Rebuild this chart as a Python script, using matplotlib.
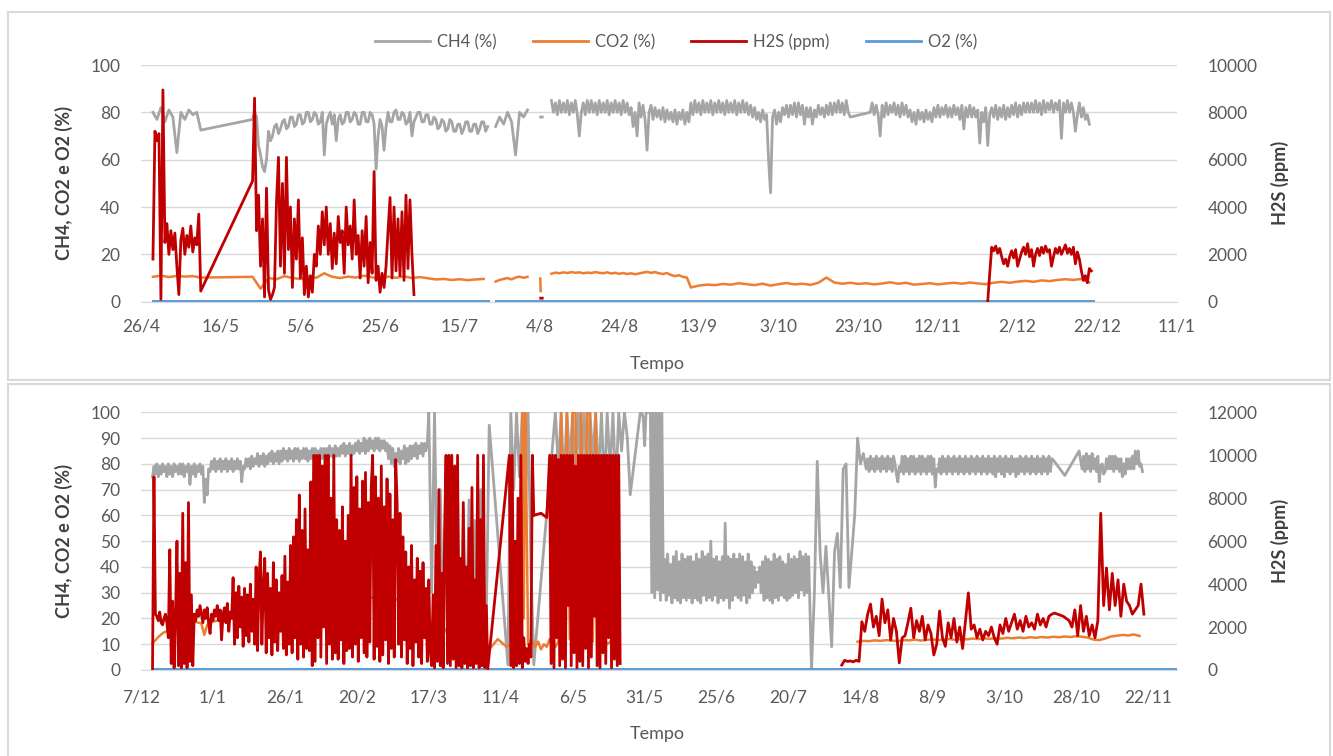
import numpy as np
import matplotlib
matplotlib.use("Agg")
import matplotlib.pyplot as plt
from matplotlib.patches import Rectangle
from matplotlib.lines import Line2D

plt.rcParams['font.family'] = ['Lato', 'DejaVu Sans']

# each run is (first day, step in days, values); None breaks the line
# top chart, days counted from 26/4
TOP_XLABELS = ['26/4', '16/5', '5/6', '25/6', '15/7', '4/8', '24/8', '13/9',
               '3/10', '23/10', '12/11', '2/12', '22/12', '11/1']

TOP_CH4 = [
    (3, 1, [80, 77, 82, 76, 81, 78, 63, 80, 77, 81, 79, 80, 72.5]),
    (28, 0.5, [77, 80, 78, 66, 62, 57, 55, 60, 72, 68, 70, 74, 75, 71, 73, 76, 77, 73, 74, 78,
               78, 74, 75, 79, 79, 75, 76, 80, 80, 76, 77, 80, 79, 75, 76, 80, 62, 75, 78, 80,
               75, 79, 68, 77, 79, 75, 76, 80, 80, 76, 77, 80, 79, 75, 75, 80, 80, 76, 76, 80,
               79, 75, 56, 70, 77, 74, 64, 74, 80, 76, 76, 80, 81, 77, 77, 80, 79, 75, 76, 80,
               70, 76, 78, 80, 80, 76, 76, 79, 79, 75, 75, 78, 77, 73, 74, 77, 76, 72, 73, 77,
               76, 72, 72, 75, 75, 71, 73, 76, 76, 72, 72, 75, 75, 71, 73, 76, 76, 72, 74]),
    None,
    (89, 1, [74, 78, 75, 80, 76, 62, 80, 78, 81]),
    None,
    (100.3, 0.4, [78, 78]),
    None,
    (103, 0.5, [85, 80, 84, 79, 85, 80, 84, 80, 85, 79, 84, 80, 85, 79, 70, 80, 84, 79, 85, 80,
                85, 80, 84, 79, 85, 80, 84, 80, 85, 79, 84, 80, 85, 80, 84, 79, 85, 80, 84, 79,
                82, 74, 80, 70, 84, 78, 83, 77, 64, 80, 83, 77, 82, 78, 81, 77, 82, 76, 81, 77,
                80, 76, 81, 75, 80, 77, 81, 75, 80, 76, 84, 79, 85, 80, 84, 79, 85, 80, 84, 80,
                85, 79, 84, 80, 85, 80, 84, 79, 85, 80, 84, 80, 85, 79, 84, 80, 85, 80, 84, 79,
                83, 78, 82, 77, 80, 76, 81, 77, 79, 60, 46, 78, 81, 75, 80, 76, 82, 79, 83, 78,
                83, 79, 84, 78, 84, 79, 83, 75, 82, 78, 82, 75, 81, 78, 83, 79, 82, 78, 83, 79,
                84, 79, 84, 80, 85, 80, 84, 79, 85, 80, 78]),
    (183, 0.5, [80, 84, 79, 83, 79, 70, 83, 78, 84, 79, 83, 80, 84, 79, 83, 78, 84, 79, 83, 78,
                81, 76, 80, 75, 81, 77, 80, 76, 81, 77, 80, 76, 82, 78, 83, 78, 82, 79, 83, 78,
                82, 78, 83, 79, 82, 77, 83, 73, 82, 78, 83, 78, 82, 78, 81, 67, 80, 76, 82, 66,
                79, 82, 78, 83, 77, 82, 78, 83, 77, 82, 78, 83, 79, 84, 78, 83, 79, 84, 80, 84,
                80, 84, 80, 85, 80, 84, 79, 85, 80, 84, 81, 85, 80, 84, 81, 85, 69, 84, 80, 85,
                80, 84, 80, 72, 79, 84, 78, 82, 77, 79, 75]),
]

TOP_CO2 = [
    (3, 2, [10.5, 11, 10.4, 10.9, 10.6, 10.8, 10.2]),
    (28, 2, [10.5, 5.5, 10, 9.5, 10.8, 10, 9.6, 10.4, 10.1, 12,
             10.5, 10, 10.6, 10.2, 11, 10.3, 9.8, 10.6, 10.1, 10.7,
             10, 10.4, 9.9, 9.4, 9.6, 9.2, 9.5, 9.1, 9.4, 9.6]),
    None,
    (89, 1, [8.5, 9.2, 9.6, 10, 9.4, 10.2, 10.6, 10.1, 10.5]),
    None,
    (100.2, 0.1, [9.8, 4.5]),
    None,
    (103, 1, [11.8, 12.3, 12, 12.4, 12.1, 12.5, 12.2, 12.4, 12, 12.3,
              12.1, 12.5, 12.2, 12, 12.4, 11.9, 12.2, 11.8, 12.1, 11.7,
              12, 11.6, 11.9, 12.3, 12.6, 12.2, 12.5, 12.0, 11.7, 12.1,
              11.3, 10.8, 11.2, 10.5, 10.2]),
    (138, 2, [6.0, 6.8, 7.2, 7.0, 7.5, 7.2, 7.8, 7.4, 7.0, 7.6,
              6.8, 7.4, 7.9, 7.3, 7.6, 7.1, 8.0, 10.2, 8.1, 7.6,
              8.0, 7.5, 7.8, 7.3, 7.7, 8.2, 7.6, 8.0, 7.2, 7.5,
              7.8, 7.3, 7.7, 8.0, 7.6, 8.1, 7.7, 7.4, 8.0, 8.4,
              8.0, 8.5, 8.8, 8.4, 9.0, 8.7, 9.2, 9.5, 9.2, 9.6, 8.2]),
]

TOP_H2S = [
    (3, 0.5, [1800, 7200, 6800, 7100, 100, 8950, 2500, 3300, 2000, 3000,
              2200, 2900, 1500, 300, 2600, 3100, 2000, 2800, 2300, 3200,
              2100, 2700, 2400, 3700, 450]),
    (28, 0.5, [5100, 8600, 3000, 4500, 1500, 3500,
               200, 4800, 500, 100, 300, 600,
               4200, 6100, 1500, 5000, 1200, 6100,
               2200, 4000, 600, 3500, 1800, 4300,
               1000, 2700, 300, 1500, 200, 1100,
               400, 2000, 1500, 3200, 2000, 3800,
               2400, 4000, 2000, 3300, 1400, 2900,
               1600, 3600, 2500, 3000, 1200, 4000,
               2400, 3200, 1800, 4300, 2000, 2800,
               1000, 3000, 1500, 3600, 800, 2500,
               1200, 5500, 900, 1500, 400, 1200,
               600, 1500, 3000, 4400, 1000, 4000,
               1300, 3500, 1100, 3800, 900, 4500,
               1400, 4300, 2000, 300]),
    None,
    (100.3, 0.4, [150, 150]),
    None,
    (212.5, 0.5, [0, 1200, 2300, 2150, 2350, 2050, 2250, 1900, 1600, 1800,
                  1500, 1900, 2150, 1850, 2200, 1500, 1800, 2100, 2300, 2000,
                  2450, 1900, 2200, 1500, 2000, 2250, 1950, 2300, 2050, 2350,
                  2100, 2200, 1500, 1900, 2250, 2050, 2300, 2000, 2200, 2400,
                  2050, 2250, 2000, 2300, 1600, 2100, 1800, 1300, 900, 1100,
                  800, 1400, 1300]),
]

TOP_O2 = [(3, 84, [0.3, 0.3]), None, (89, 150, [0.3, 0.3])]

# bottom chart, days counted from 7/12
BOT_XLABELS = ['7/12', '1/1', '26/1', '20/2', '17/3', '11/4', '6/5', '31/5',
               '25/6', '20/7', '14/8', '8/9', '3/10', '28/10', '22/11']

BOT_CH4 = [
    (4, 0.5, [75, 79, 76, 80, 75, 79, 76, 80, 77, 79, 75, 80, 76, 79, 75, 80, 77, 79, 76, 80,
              76, 80, 75, 79, 77, 80, 72, 79, 76, 80, 75, 79, 77, 80, 76, 79, 65, 74, 68, 78,
              77, 81, 78, 82, 77, 81, 78, 82, 77, 81, 78, 82, 77, 81, 78, 82, 77, 81, 78, 82,
              78, 81, 73, 79, 78, 82, 79, 82, 78, 83, 79, 82, 80, 84, 79, 83, 80, 84, 79, 83,
              80, 84, 81, 85, 80, 84, 81, 85, 80, 85, 81, 86, 82, 85, 81, 86, 82, 85, 81, 86,
              82, 86, 81, 85, 82, 86, 82, 86, 81, 85, 82, 86, 82, 86, 81, 85, 82, 86, 82, 86,
              83, 86, 82, 87, 83, 86, 82, 87, 83, 86, 83, 87, 84, 88, 83, 87, 84, 88, 83, 87,
              84, 88, 85, 89, 84, 88, 85, 90, 84, 89, 85, 90, 86, 89, 85, 90, 86, 90, 85, 89,
              86, 89, 85, 88, 82, 87, 80, 86, 79, 84, 81, 86, 80, 85, 82, 87, 80, 86, 81, 87,
              82, 87, 83, 88, 82, 87, 84, 88, 83, 88, 85, 88]),
    (100, 1, [100, 30, 100, 25, 70, 10, 65, 5, 60, 15,
              68, 5, 62, 10, 66, 3, 58, 8, 70, 2,
              20, 95]),
    (127.5, 1, [2, 100, 70, 100, 75, 100, 60, 100, 40, 2]),
    (144, 1, [100, 78, 100, 72, 100, 80, 100, 70, 100, 75,
              100, 68, 100, 82, 100, 74, 100, 70, 100, 77,
              100, 69, 100, 85, 100, 90, 68]),
    (173.5, 0.5, [100, 100, 98, 87, 100, 100, 100, 100, 30, 100,
                  28, 100, 31, 100, 27, 100, 30]),
    (182, 0.5, [43, 27, 45, 29, 41, 26, 44, 28, 46, 27,
                42, 26, 45, 28, 43, 27, 44, 28, 44, 26,
                42, 28, 45, 27, 43, 26, 46, 29, 44, 27,
                45, 28, 50, 27, 43, 29, 44, 26, 42, 28,
                44, 27, 57, 28, 44, 24, 43, 27, 45, 29,
                43, 28, 45, 27, 44, 29, 42, 26, 45, 28,
                42, 30, 40, 32, 38, 34, 40, 30, 42, 27,
                44, 28, 43, 27, 42, 26, 45, 28, 43, 27,
                44, 29, 42, 28, 41, 27, 45, 28, 43, 29,
                44, 30, 43, 28, 46, 31, 44, 29, 45, 30,
                44]),
    (233, 1, [0, 30, 81, 45, 30, 48, 29, 9, 46,
              53, 32, 78, 80, 32, 46, 60, 90, 80, 84]),
    (252, 0.5, [78, 82, 77, 83, 78, 82, 77, 83, 78, 82, 77, 83, 78, 82, 77, 83, 78, 82, 77, 83,
                80, 76, 73, 79, 77, 83, 76, 83, 77, 82, 76, 83, 77, 83, 76, 82, 77, 83, 76, 83,
                77, 82, 76, 83, 77, 83, 76, 82, 71, 78, 77, 82, 76, 83, 77, 82, 76, 83, 77, 82,
                76, 83, 77, 82, 76, 83, 77, 82, 76, 83, 77, 82, 76, 83, 77, 82, 76, 83, 77, 82,
                76, 83, 77, 82, 76, 83, 77, 82, 76, 83, 75, 82, 77, 83, 76, 82, 75, 83, 77, 82,
                76, 83, 77, 82, 75, 82, 76, 83, 77, 82, 76, 83, 77, 82, 76, 83, 77, 82, 76, 83,
                77, 82, 76, 83, 77, 82, 76, 83, 77, 82, 81.5]),
    (321, 5, [75.5, 85]),
    (327, 0.5, [78, 83, 77, 84, 78, 83, 77, 84, 78, 82, 77, 83, 73, 79, 80, 76, 77, 82, 78, 83,
                78, 83, 77, 83, 78, 82, 77, 82, 75, 80, 76, 82, 78, 82, 78, 83, 78, 85, 80, 85,
                79, 80, 77]),
]

BOT_CO2 = [
    (4, 1, [10.4, 11.5, 12.8, 13.8, 14.6, 15.0, 15.3, 15.6, 15.8, 16.0,
            16.2, 16.8, 17.3, 17.8, 18.2, 18.6, 18.4, 18.0, 13.6, 17.5,
            18.4, 18.8, 19.0, 19.4, 19.8, 20.2, 20.5]),
    (31, 3, [21, 21.5, 22, 22.8, 23.5, 24, 24.8, 25.5, 26.5, 26,
             25.5, 26.4, 27, 27.5, 28, 27.8, 28.2, 28, 27.5, 28]),
    (91, 3, [26, 22, 24, 18, 20, 15, 12, 18, 10, 14, 8, 12, 9, 11]),
    (132, 0.5, [10, 100, 20, 100, 60, 10, 8, 12]),
    (137, 1, [9, 11, 8, 10, 9, 12, 10, 9, 11, 100,
              10, 100, 12, 100, 100, 15, 100, 9, 100, 100,
              11, 100, 10, 9, 12, 10, 11, 9, 10, 8]),
    None,
    (249, 2, [11.0, 11.3, 11.2, 11.5, 11.3, 11.6, 11.4, 11.2, 11.6, 11.5,
              11.8, 11.4, 11.7, 11.9, 11.6, 11.8, 12.0, 11.7, 12.1, 11.9,
              12.2, 12.0, 12.3, 12.1, 12.4, 12.2, 12.5, 12.3, 12.6, 12.4,
              12.7, 12.5, 12.8, 12.6, 12.9, 12.7, 13.0, 12.8, 13.1, 12.9,
              12.6, 11.8, 11.6, 12.2, 13.0, 13.3, 13.6, 13.4, 13.8, 13.2]),
]

BOT_H2S = [
    (4, 0.5, [0, 9000, 2600, 2500, 2300, 2700, 2200, 2100, 2400, 2600, 2200,
              1500, 5600, 300, 3200, 100, 2500, 6000, 200, 4500, 100,
              7300, 300, 5000, 100, 7800, 400, 3500, 200, 2600,
              2300, 2800, 2500, 3000, 2600, 2200, 2800, 2400, 2900, 2200,
              1700, 2600, 2300, 2800,
              2500, 3000, 2300, 2800, 1400, 2600, 2900, 2200, 3100, 1800,
              2700, 2400,
              4300, 1200, 3600, 1500, 3900, 2000, 3400, 1100, 3800, 1600,
              3500, 1300, 4000, 1800, 3300, 1200,
              4800, 900, 4200, 5500, 1200, 3900, 5200, 800, 4500, 1500,
              3800, 700, 5000, 1300, 4200, 900, 3600, 1800, 4400, 1000,
              5300, 700, 4100, 1200,
              5800, 800, 6200, 1500, 7000, 500, 8150, 1200, 6500, 600,
              7500, 1000, 5600, 900, 8760, 200,
              10000, 400, 10000, 1500, 10000, 600, 9500, 2000, 10000, 300,
              10000, 1200, 8000, 500, 10000, 800,
              7000, 500, 6500, 1400, 7600, 300, 6000, 900, 7200,
              1000, 10000, 600, 8500, 1200, 9000, 400, 7500, 1500, 8800,
              800, 9200, 600, 7800, 1300, 8500, 10000, 500, 9000, 1100,
              8000, 400, 9500, 700, 7600, 1400, 8900, 300, 8200, 1000,
              7000, 600, 9800,
              7800, 1200, 7300, 600, 6200, 1400, 5500, 300, 4800, 1000,
              5800, 200, 4200, 1300, 5200, 600, 4600, 300, 5000, 1500,
              3800, 400, 4200, 900,
              200, 3500, 100, 5800, 400, 8400, 200, 4500, 100, 6500,
              10000, 300, 10000, 200, 10000, 500, 9500, 100, 10000, 200,
              5200, 100, 7800, 300, 4800, 100, 6600, 200, 8500, 100,
              4200, 300, 10000, 100, 7000, 200, 10000, 100, 3000, 50]),
    (128, 0.5, [10000, 200, 10000, 100, 6000, 200, 8000, 300, 10000, 100,
                1500, 400, 1000, 300, 1200, 600, 10000, 7200]),
    (139, 2, [7300, 7100]),
    (142, 0.5, [10000, 300, 10000, 100, 10000, 1500, 9800, 200, 10000, 500,
                10000, 100, 10000, 3000, 10000, 200, 10000, 800, 9500, 100,
                10000, 400, 10000, 200, 10000, 1000, 10000, 100, 10000, 600,
                10000, 2500, 10000, 200, 10000, 100, 10000, 800, 10000, 300,
                10000, 1500, 10000, 100, 10000, 500, 10000, 200, 10000, 300]),
    None,
    (243.5, 1, [230, 450, 400, 420, 380, 450, 400, 2250, 1800, 2600,
                3070, 2000, 2500, 1600, 3300, 2200, 2800, 1400, 2400, 1800,
                330, 1500]),
    (265.5, 1, [1600, 2200, 2880, 1500, 2300, 1800, 2500, 1400, 2100, 1700,
                700, 1200, 2750, 1500, 1100, 2200, 1500, 2400, 1300, 2000,
                1000, 2300, 3590, 1900, 2100, 1500, 1900, 1400, 1800, 1600,
                2000, 1500, 1200, 2100, 1700, 2400, 1800, 2200, 2600, 1900,
                2300, 1800, 2500, 2000, 2200, 1900, 2600, 2100, 2400, 2000,
                2500, 2600, 2650, 2600, 2550, 2500, 2400, 2300, 2000, 2800,
                1600, 3000, 1800, 2500, 1600, 2100, 1500, 2300, 7300, 3000,
                4750, 2800, 4500, 3000, 4200, 2500, 4000, 3200, 3000, 2600,
                2800, 3000, 4000, 2600]),
]

BOT_O2 = [(4, 356, [0.3, 0.3])]

C_CH4 = '#A5A5A5'
C_CO2 = '#ED7D31'
C_H2S = '#C00000'
C_O2 = '#5B9BD5'
GRID = '#D9D9D9'
TXT = '#595959'


def build(runs):
    ts, vs = [], []
    for run in runs:
        if run is None:
            ts.append(np.nan)
            vs.append(np.nan)
            continue
        t0, dt, vals = run
        ts.extend(t0 + dt * np.arange(len(vals)))
        vs.extend(vals)
    return np.array(ts), np.array(vs)


def panel(rect, ch4, co2, h2s, o2, xmax, xstep, xlabels, ystep, h2smax, xpad):
    ax = fig.add_axes(rect)
    ax2 = ax.twinx()
    ax.plot(*build(ch4), color=C_CH4, lw=2.0)
    ax.plot(*build(co2), color=C_CO2, lw=1.8)
    ax.plot(*build(o2), color=C_O2, lw=2.2)
    ax2.plot(*build(h2s), color=C_H2S, lw=2.0)

    ax.set_xlim(0, xmax)
    ax.set_ylim(0, 100)
    ax2.set_ylim(0, h2smax)
    ax.set_xticks(np.arange(len(xlabels)) * xstep)
    ax.set_xticklabels(xlabels)
    ax.set_yticks(np.arange(0, 101, ystep))
    ax2.set_yticks(np.arange(0, h2smax + 1, 2000))
    ax.grid(axis='y', color=GRID, lw=1)
    ax.set_axisbelow(True)
    for a in (ax, ax2):
        for s in a.spines.values():
            s.set_visible(False)
    ax.spines['bottom'].set_visible(True)
    ax.spines['bottom'].set_color(GRID)
    ax.tick_params(axis='x', length=0, pad=xpad, labelsize=12.5, labelcolor=TXT)
    ax.tick_params(axis='y', length=0, pad=15, labelsize=12.5, labelcolor=TXT)
    ax2.tick_params(axis='y', length=0, pad=22, labelsize=12.5, labelcolor=TXT)
    return ax, ax2


fig = plt.figure(figsize=(13.33, 7.56), dpi=100)

W, H = 1333, 756


def fx(px):
    return px / W


def fy(py):
    return 1 - py / H


# panel frames
fig.add_artist(Rectangle((fx(8), fy(380)), fx(1322), 368 / H, transform=fig.transFigure,
                         fill=False, ec=GRID, lw=1.5))
fig.add_artist(Rectangle((fx(8), fy(760)), fx(1322), 376 / H, transform=fig.transFigure,
                         fill=False, ec=GRID, lw=1.5))

L, R = 141, 1177
panel([fx(L), fy(301.7), fx(R - L), (301.7 - 65) / H],
      TOP_CH4, TOP_CO2, TOP_H2S, TOP_O2, 260, 20, TOP_XLABELS, 20, 10000, 12)
panel([fx(L), fy(670), fx(R - L), (670 - 412.3) / H],
      BOT_CH4, BOT_CO2, BOT_H2S, BOT_O2, 360, 25, BOT_XLABELS, 10, 12000, 14)

# axis titles
for yc, yt in ((183, 364), (541, 734)):
    fig.text(fx(64), fy(yc), 'CH4, CO2 e O2 (%)', rotation=90, ha='center', va='center',
             fontsize=13, fontweight='bold', color='#404040')
    fig.text(fx(1280), fy(yc), 'H2S (ppm)', rotation=90, ha='center', va='center',
             fontsize=13, fontweight='bold', color='#404040')
    fig.text(fx(657), fy(yt), 'Tempo', ha='center', va='center', fontsize=13, color=TXT)

handles = [Line2D([], [], color=c, lw=2) for c in (C_CH4, C_CO2, C_H2S, C_O2)]
fig.legend(handles, ['CH4 (%)', 'CO2 (%)', 'H2S (ppm)', 'O2 (%)'],
           loc='center', bbox_to_anchor=(fx(676), fy(42)), ncol=4, frameon=False,
           fontsize=12, handlelength=3.3, columnspacing=2.2, handletextpad=0.4,
           labelcolor=TXT)

fig.savefig('out.png', dpi=100)
